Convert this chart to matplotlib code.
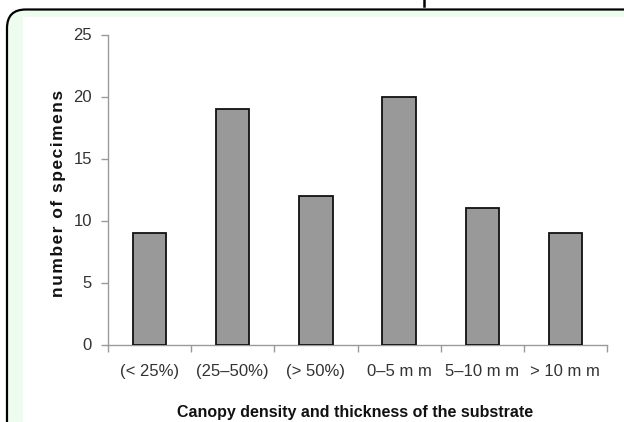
import numpy as np
import matplotlib
matplotlib.use("Agg")
import matplotlib.pyplot as plt
from matplotlib.patches import FancyBboxPatch, Rectangle
from matplotlib.lines import Line2D

categories = ["(< 25%)", "(25\u201350%)", "(> 50%)", "0\u20135 m m", "5\u201310 m m", "> 10 m m"]
counts = [9, 19, 12, 20, 11, 9]
yticks = [0, 5, 10, 15, 20, 25]
xlabel = "Canopy density and thickness of the substrate"
ylabel = "number of specimens"

W, H = 624, 422
fig = plt.figure(figsize=(W / 100, H / 100), dpi=100)
fig.patch.set_facecolor("white")

def fx(px):
    return px / W

def fy(py):
    return (H - py) / H

# Outer framed panel (light green with black rounded border) and inner white panel
outer = FancyBboxPatch((fx(7), fy(440)), fx(660) - fx(7), fy(9.5) - fy(440),
                       boxstyle="round,pad=0,rounding_size=0.03",
                       transform=fig.transFigure, facecolor="#eefcef",
                       edgecolor="black", linewidth=1.6, zorder=-10,
                       mutation_aspect=W / H)
fig.add_artist(outer)
inner = Rectangle((fx(23), fy(440)), fx(660) - fx(23), fy(17) - fy(440),
                  transform=fig.transFigure, facecolor="white", edgecolor="none",
                  zorder=-9)
fig.add_artist(inner)
fig.add_artist(Line2D([fx(424), fx(424)], [fy(0), fy(6)], transform=fig.transFigure,
                      color="black", linewidth=1.8, zorder=-8))

ax = fig.add_axes([fx(108), fy(344.5), fx(607) - fx(108), fy(34.5) - fy(344.5)])
ax.set_facecolor("none")
x = np.arange(len(categories))
ax.bar(x, counts, width=0.4, color="#999999", edgecolor="#111111", linewidth=1.3, zorder=3)

ax.set_xlim(-0.5, len(categories) - 0.5)
ax.set_ylim(0, 25)
ax.set_yticks(yticks)
ax.set_xticks(x)
ax.set_xticklabels(categories)
ax.set_xticks(np.arange(-0.5, len(categories), 1), minor=True)

for s in ["top", "right"]:
    ax.spines[s].set_visible(False)
for s in ["left", "bottom"]:
    ax.spines[s].set_color("#9a9a9a")
    ax.spines[s].set_linewidth(1.0)

font = "Liberation Sans"
ax.tick_params(axis="x", which="major", length=0, pad=14, labelsize=12,
               labelcolor="#333333")
ax.tick_params(axis="x", which="minor", length=5, width=1.0, color="#9a9a9a",
               direction="out")
ax.tick_params(axis="y", length=5, width=1.0, color="#9a9a9a", pad=6.5,
               labelsize=12, labelcolor="#333333")
for lab in ax.get_xticklabels() + ax.get_yticklabels():
    lab.set_fontfamily(font)

fig.text(fx(355), fy(417), xlabel, ha="center", va="baseline", fontsize=11.5,
         fontweight="bold", family=[font, "DejaVu Sans"], color="#111111")
spaced = "\u200a".join(list(ylabel))
fig.text(fx(59), fy(193), spaced, ha="center", va="center", rotation=90,
         fontsize=12.5, fontweight="bold", family=[font, "DejaVu Sans"], color="#111111")

fig.savefig("out.png", dpi=100)
